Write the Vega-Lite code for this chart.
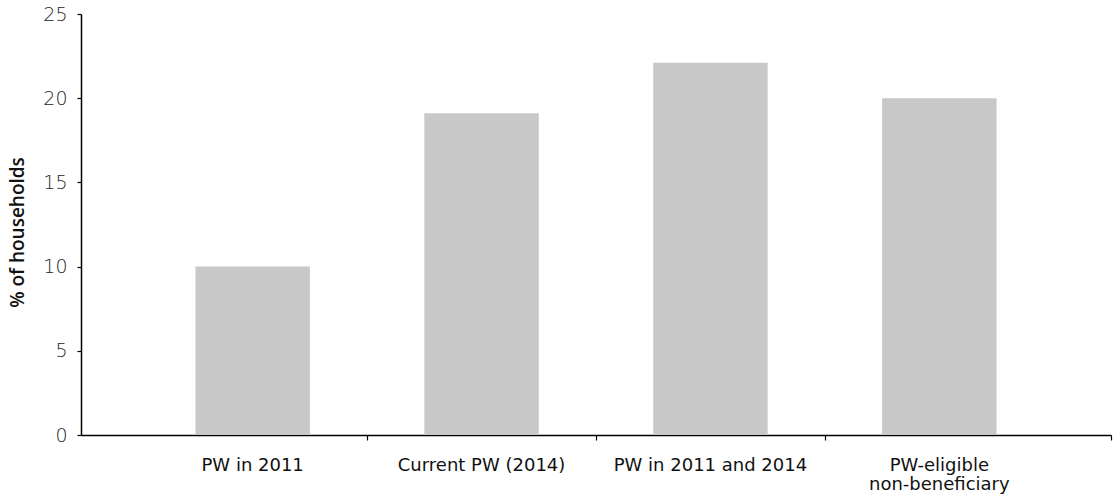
{
  "$schema": "https://vega.github.io/schema/vega-lite/v6.json",
  "width": 1030,
  "height": 421,
  "autosize": "none",
  "padding": {"left": 81, "top": 14, "right": 3, "bottom": 64},
  "config": {
    "view": {"stroke": null},
    "font": "DejaVu Sans",
    "axis": {"grid": false, "domainColor": "#000", "tickColor": "#000", "domainWidth": 1.5, "tickWidth": 1.2}
  },
  "data": {
    "values": [
      {"category": "PW in 2011", "value": 10.0},
      {"category": "Current PW (2014)", "value": 19.1},
      {"category": "PW in 2011 and 2014", "value": 22.1},
      {"category": "PW-eligible non-beneficiary", "value": 20.0}
    ]
  },
  "layer": [
    {
      "mark": {"type": "bar", "color": "#c8c8c8"},
      "encoding": {
        "x": {
          "field": "category",
          "type": "nominal",
          "sort": null,
          "scale": {"paddingInner": 0.5, "paddingOuter": 0.5},
          "axis": {
            "title": null,
            "ticks": false,
            "labelAngle": 0,
            "labelFont": "DejaVu Sans",
            "labelFontSize": 18,
            "labelColor": "#111",
            "labelPadding": 21,
            "labelLimit": 300,
            "labelLineHeight": 19,
            "labelExpr": "datum.value == 'PW-eligible non-beneficiary' ? ['PW-eligible', 'non-beneficiary'] : datum.label"
          }
        },
        "y": {
          "field": "value",
          "type": "quantitative",
          "scale": {"domain": [0, 25], "nice": false},
          "axis": {
            "title": "% of households",
            "titleFont": "Open Sans",
            "titleFontSize": 19,
            "titleFontWeight": 600,
            "titleColor": "#111",
            "titlePadding": 15,
            "titleY": 218,
            "values": [0, 5, 10, 15, 20, 25],
            "tickSize": 4,
            "labelPadding": 10,
            "labelFont": "DejaVu Sans",
            "labelFontSize": 19,
            "labelFontWeight": 300,
            "labelColor": "#222"
          }
        }
      }
    },
    {
      "mark": {"type": "rule", "opacity": 0},
      "encoding": {
        "x": {
          "datum": 0,
          "type": "quantitative",
          "scale": {"domain": [0, 4.5], "nice": false, "zero": false},
          "axis": {
            "orient": "bottom",
            "title": null,
            "values": [1.25, 2.25, 3.25, 4.5],
            "labels": false,
            "domain": false,
            "ticks": true,
            "tickSize": 5
          }
        }
      }
    }
  ],
  "resolve": {"scale": {"x": "independent"}, "axis": {"x": "independent"}}
}
